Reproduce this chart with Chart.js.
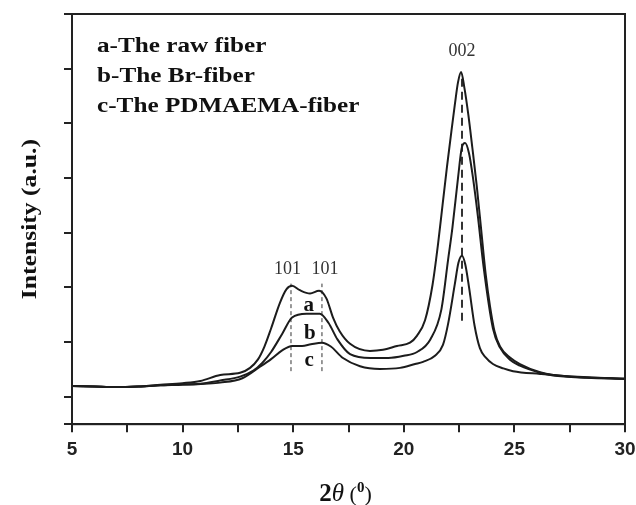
<!DOCTYPE html>
<html>
<head>
<meta charset="utf-8">
<script src="https://cdn.jsdelivr.net/npm/chart.js@4"></script>
<style>
  html, body { margin: 0; padding: 0; background: #fff; }
  #wrap { width: 636px; height: 505px; }
</style>
</head>
<body>
<div id="wrap"><canvas id="xrdChart" width="636" height="505"></canvas></div>
<script>
// XRD patterns, 2theta vs intensity (arbitrary units)
const rawX = [5, 6, 7, 8, 9, 10, 10.8, 11.7, 12.6, 13.05, 13.4, 13.7, 14.0, 14.4, 14.7, 14.95, 15.3, 15.76, 16.17, 16.5, 16.8, 17.1, 17.57, 18.47, 19.06, 19.69, 20.28, 20.6, 20.96, 21.3, 21.55, 21.75, 21.95, 22.15, 22.31, 22.45, 22.59, 22.74, 22.92, 23.1, 23.3, 23.5, 23.7, 23.9, 24.1, 24.35, 24.8, 25.25, 26.16, 26.75, 28.28, 30];
const rawY = [1.20, 1.19, 1.18, 1.19, 1.22, 1.25, 1.29, 1.40, 1.44, 1.53, 1.68, 1.92, 2.25, 2.72, 2.97, 3.03, 2.95, 2.89, 2.94, 2.80, 2.45, 2.20, 1.97, 1.84, 1.86, 1.93, 1.99, 2.12, 2.40, 3.05, 3.80, 4.50, 5.20, 5.85, 6.35, 6.75, 6.94, 6.65, 6.15, 5.55, 4.85, 4.05, 3.25, 2.65, 2.20, 1.92, 1.72, 1.60, 1.45, 1.40, 1.36, 1.33];

const brX = [5, 6, 7, 8, 9, 10, 10.8, 11.7, 12.6, 13.2, 13.6, 14.0, 14.5, 14.95, 15.6, 16.2, 16.6, 17.0, 17.57, 18.5, 19.3, 20.0, 20.6, 21.2, 21.7, 22.0, 22.2, 22.45, 22.62, 22.77, 22.95, 23.13, 23.35, 23.6, 24.03, 24.35, 24.8, 25.25, 26.16, 26.75, 28.28, 30];
const brY = [1.20, 1.19, 1.18, 1.19, 1.21, 1.23, 1.24, 1.30, 1.37, 1.48, 1.62, 1.82, 2.15, 2.45, 2.52, 2.52, 2.35, 2.05, 1.78, 1.71, 1.71, 1.75, 1.82, 2.05, 2.60, 3.50, 4.10, 5.00, 5.55, 5.64, 5.45, 5.00, 4.30, 3.40, 2.25, 1.90, 1.68, 1.57, 1.44, 1.39, 1.35, 1.33];

const pdX = [5, 6, 7, 8, 9, 10, 11, 11.7, 12.7, 13.5, 14.0, 14.5, 14.95, 15.4, 15.8, 16.3, 16.7, 17.25, 18.02, 18.92, 19.83, 20.51, 20.87, 21.41, 21.77, 22.0, 22.31, 22.47, 22.63, 22.78, 22.95, 23.2, 23.44, 23.7, 24.03, 24.5, 24.94, 26.16, 28, 30];
const pdY = [1.20, 1.19, 1.18, 1.19, 1.21, 1.22, 1.24, 1.26, 1.34, 1.55, 1.69, 1.85, 1.93, 1.93, 1.96, 1.99, 1.92, 1.71, 1.56, 1.51, 1.53, 1.60, 1.64, 1.75, 1.95, 2.33, 3.07, 3.45, 3.58, 3.42, 3.00, 2.30, 1.89, 1.72, 1.60, 1.52, 1.47, 1.42, 1.36, 1.33];

// dashed peak markers
const dash101X = [14.9, 16.3];
const dash101Y = [1.47, 3.07];
const dash002X = 22.63;
const dash002Y = [2.39, 6.85];

// text on the plot
const peakLabels = ['101', '101', '002'];
const peakLabelX = [14.74, 16.44, 22.63];
const peakLabelY = [3.33, 3.33, 7.31];
const curveLetters = ['a', 'b', 'c'];
const letterX = [15.7, 15.75, 15.72];
const letterY = [2.57, 2.06, 1.56];
const legendLines = ['a-The raw fiber', 'b-The Br-fiber', 'c-The PDMAEMA-fiber'];

const xTicks = [5, 10, 15, 20, 25, 30];

function toPoints(xs, ys) {
    return xs.map((x, i) => ({ x: x, y: ys[i] }));
}

const ink = '#1c1c1c';

function curve(xs, ys) {
    return {
        data: toPoints(xs, ys),
        borderColor: ink,
        borderWidth: 2,
        pointRadius: 0,
        fill: false,
        cubicInterpolationMode: 'monotone'
    };
}

function dashLine(x, ys, width, dash) {
    return {
        data: [{ x: x, y: ys[0] }, { x: x, y: ys[1] }],
        borderColor: '#333',
        borderWidth: width,
        borderDash: dash,
        pointRadius: 0,
        fill: false
    };
}

// stretched serif text, the figure's lettering is wide
function wideText(ctx, text, x, y, scaleX) {
    ctx.save();
    ctx.translate(x, y);
    ctx.scale(scaleX, 1);
    ctx.fillText(text, 0, 0);
    ctx.restore();
}

const decorations = {
    id: 'decorations',
    afterDatasetsDraw(chart) {
        const ctx = chart.ctx;
        const xs = chart.scales.x, ys = chart.scales.y;
        const area = chart.chartArea;

        // frame top and right
        ctx.save();
        ctx.strokeStyle = '#222';
        ctx.lineWidth = 2;
        ctx.strokeRect(area.left, area.top, area.right - area.left, area.bottom - area.top);

        // peak labels
        ctx.fillStyle = '#333';
        ctx.font = '18px "Liberation Serif", serif';
        ctx.textAlign = 'center';
        ctx.textBaseline = 'middle';
        peakLabels.forEach((t, i) => {
            ctx.fillText(t, xs.getPixelForValue(peakLabelX[i]), ys.getPixelForValue(peakLabelY[i]));
        });

        // curve letters
        ctx.fillStyle = '#111';
        ctx.font = 'bold 21px "Liberation Serif", serif';
        ctx.textBaseline = 'alphabetic';
        curveLetters.forEach((t, i) => {
            ctx.fillText(t, xs.getPixelForValue(letterX[i]), ys.getPixelForValue(letterY[i]));
        });

        // legend text
        ctx.textAlign = 'left';
        ctx.font = 'bold 20px "Liberation Serif", serif';
        legendLines.forEach((t, i) => {
            wideText(ctx, t, area.left + 25, area.top + 38 + i * 30, 1.26);
        });

        // y title
        ctx.save();
        ctx.translate(36, (area.top + area.bottom) / 2);
        ctx.rotate(-Math.PI / 2);
        ctx.textAlign = 'center';
        ctx.font = 'bold 21px "Liberation Serif", serif';
        ctx.scale(1.22, 1);
        ctx.fillText('Intensity (a.u.)', 0, 0);
        ctx.restore();

        // x title: 2θ (⁰)
        const parts = [
            { t: '2', f: 'bold 25px "Liberation Serif", serif', dy: 0 },
            { t: 'θ', f: 'italic 25px "Liberation Serif", serif', dy: 0 },
            { t: ' (', f: '22px "Liberation Serif", serif', dy: 0 },
            { t: '0', f: 'bold 15px "Liberation Serif", serif', dy: -9 },
            { t: ')', f: '22px "Liberation Serif", serif', dy: 0 }
        ];
        let total = 0;
        parts.forEach(p => { ctx.font = p.f; p.w = ctx.measureText(p.t).width; total += p.w; });
        let x = (area.left + area.right) / 2 - total / 2 - 3;
        const base = 501;
        parts.forEach(p => {
            ctx.font = p.f;
            ctx.fillText(p.t, x, base + p.dy);
            x += p.w;
        });
        ctx.restore();
    }
};

const ctx = document.getElementById('xrdChart').getContext('2d');
const xrdChart = new Chart(ctx, {
    type: 'line',
    data: {
        datasets: [
            curve(rawX, rawY),
            curve(brX, brY),
            curve(pdX, pdY),
            dashLine(dash101X[0], dash101Y, 1, [4, 3]),
            dashLine(dash101X[1], dash101Y, 1, [4, 3]),
            dashLine(dash002X, dash002Y, 2, [8, 5])
        ]
    },
    options: {
        responsive: false,
        animation: false,
        layout: { padding: { left: 64, right: 11, top: 14, bottom: 38 } },
        plugins: {
            legend: { display: false },
            tooltip: { enabled: false }
        },
        scales: {
            x: {
                type: 'linear',
                min: 5,
                max: 30,
                border: { display: true, color: '#222', width: 2 },
                grid: { drawOnChartArea: false, tickLength: 8, color: '#222', lineWidth: 2 },
                ticks: {
                    stepSize: 2.5,
                    padding: 6,
                    color: '#222',
                    font: { family: '"Liberation Sans", Arial, sans-serif', size: 19, weight: 'bold' },
                    callback: v => (xTicks.includes(v) ? String(v) : '')
                },
                afterFit: scale => { scale.paddingLeft = 0; scale.paddingRight = 0; }
            },
            y: {
                type: 'linear',
                min: 0.5,
                max: 8,
                border: { display: true, color: '#222', width: 2 },
                grid: { drawOnChartArea: false, tickLength: 8, color: '#222', lineWidth: 2 },
                ticks: { stepSize: 1, display: false }
            }
        }
    },
    plugins: [decorations]
});
</script>
</body>
</html>
